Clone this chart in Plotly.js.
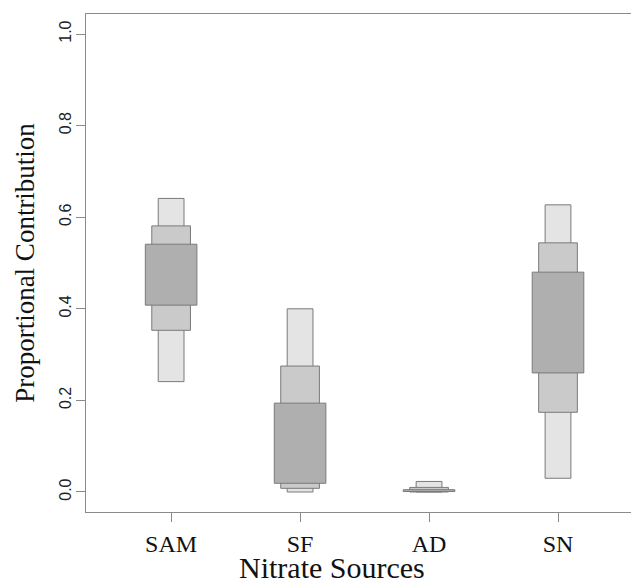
<!DOCTYPE html>
<html>
<head>
<meta charset="utf-8">
<script src="https://cdn.plot.ly/plotly-3.0.1.min.js"></script>
<style>html,body{margin:0;padding:0;background:#fff;}#chart{width:631px;height:586px;}</style>
</head>
<body>
<div id="chart"></div>
<script>
// Nitrate sources and their credible intervals of proportional contribution
const sources = ["SAM", "SF", "AD", "SN"];
// 95% credible interval
const low95  = [0.241, 0.000, 0.000, 0.030];
const high95 = [0.641, 0.400, 0.023, 0.627];
// 75% credible interval
const low75  = [0.353, 0.008, 0.000, 0.174];
const high75 = [0.581, 0.275, 0.010, 0.544];
// 50% credible interval
const low50  = [0.408, 0.019, 0.001, 0.260];
const high50 = [0.541, 0.194, 0.005, 0.480];

const yTicks = [0, 0.2, 0.4, 0.6, 0.8, 1.0];
const yTickText = ["0.0", "0.2", "0.4", "0.6", "0.8", "1.0"];
const xTitle = "Nitrate Sources";
const yTitle = "Proportional Contribution";

function band(lo, hi, w, color, name) {
  return {
    type: "bar",
    name: name,
    x: sources,
    base: lo,
    y: hi.map((h, i) => h - lo[i]),
    width: sources.map(() => w),
    marker: {color: color, line: {color: "#7a7a7a", width: 1}},
    hoverinfo: "skip",
    showlegend: false
  };
}

const data = [
  band(low95, high95, 0.2, "#e4e4e4", "95%"),
  band(low75, high75, 0.3, "#cacaca", "75%"),
  band(low50, high50, 0.4, "#afafaf", "50%")
];

const layout = {
  width: 631,
  height: 586,
  margin: {l: 86, r: 0, t: 14, b: 74},
  paper_bgcolor: "#ffffff",
  plot_bgcolor: "#ffffff",
  barmode: "overlay",
  showlegend: false,
  xaxis: {
    type: "category",
    range: [-0.66, 3.566],
    showgrid: false,
    zeroline: false,
    showline: true,
    mirror: true,
    linecolor: "#8a8a8a",
    linewidth: 1,
    ticks: "outside",
    ticklen: 9,
    tickcolor: "#8a8a8a",
    tickfont: {family: "Liberation Serif, Times New Roman, serif", size: 24, color: "#111"},
    ticklabelstandoff: 1
  },
  yaxis: {
    range: [-0.0437, 1.0437],
    tickvals: yTicks,
    ticktext: yTickText,
    tickangle: -90,
    showgrid: false,
    zeroline: false,
    showline: true,
    linecolor: "#8a8a8a",
    linewidth: 1,
    ticks: "outside",
    ticklen: 9,
    tickcolor: "#8a8a8a",
    tickfont: {family: "Liberation Sans, Arial, sans-serif", size: 16, color: "#222"},
    ticklabelstandoff: -1,
    title: {text: yTitle, font: {family: "Liberation Serif, Times New Roman, serif", size: 27, color: "#111"}, standoff: 14}
  },
  annotations: [{
    text: xTitle,
    xref: "paper", yref: "paper",
    x: 0.4514, y: -0.1124,
    xanchor: "center", yanchor: "middle",
    showarrow: false,
    font: {family: "Liberation Serif, Times New Roman, serif", size: 30, color: "#111"}
  }]
};

Plotly.newPlot("chart", data, layout, {displayModeBar: false, staticPlot: true});
</script>
</body>
</html>
